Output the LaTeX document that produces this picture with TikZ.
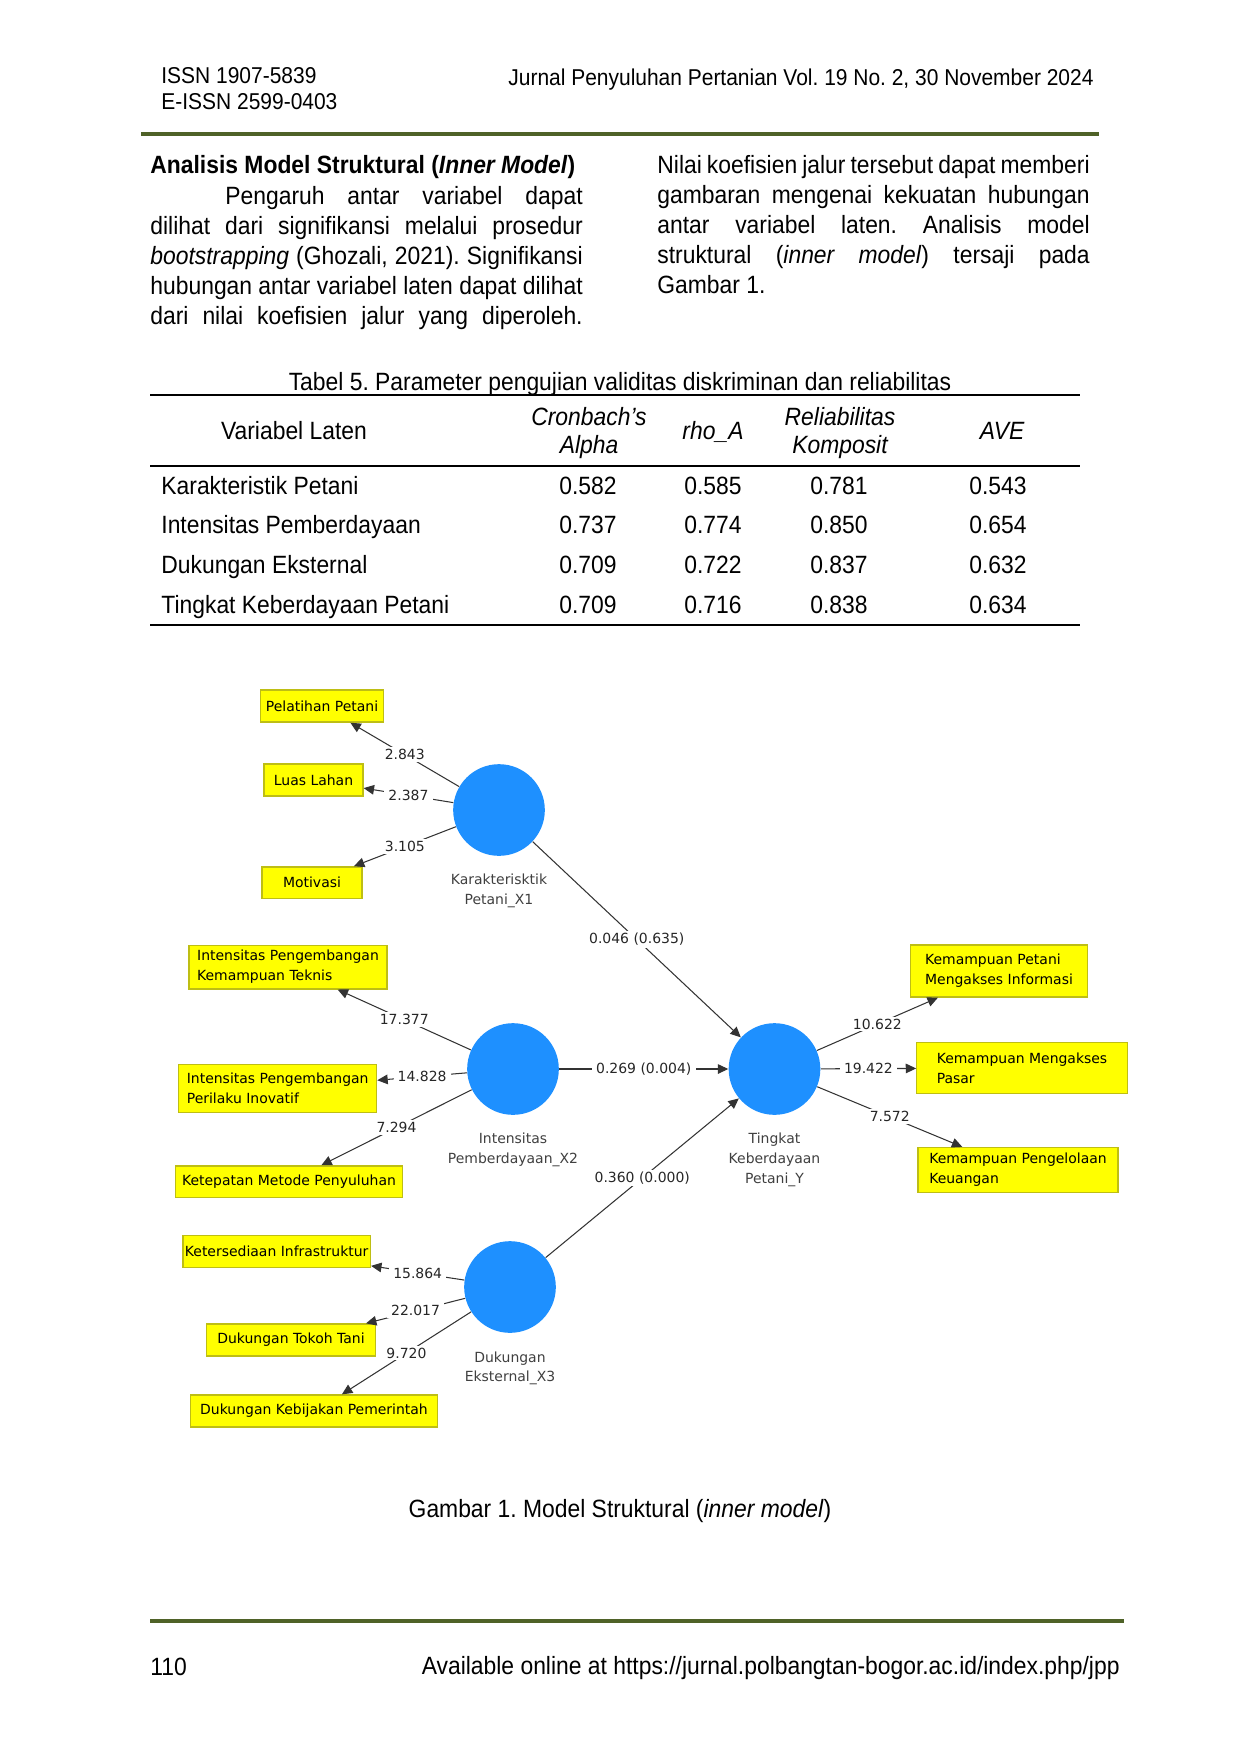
\documentclass[tikz,border=0pt]{standalone}
\usepackage{fontspec}
\setmainfont{Liberation Sans}[FakeStretch=0.915]
\newfontfamily\plsfont{DejaVu Sans}
\usepackage{xcolor}
\usetikzlibrary{arrows.meta,positioning}
\definecolor{plsblue}{RGB}{30,144,255}
\definecolor{plsyellow}{RGB}{255,255,0}
\definecolor{plsedge}{RGB}{190,190,20}
\definecolor{rulegreen}{RGB}{79,98,40}
\frenchspacing

\begin{document}
\begin{tikzpicture}[x={(0.48pt,0pt)},y={(0pt,-0.48pt)},>={Triangle[length=5pt,width=4.6pt]},
  body/.style={font=\fontsize{12}{14.5}\selectfont,inner sep=0pt},
  hdr/.style={font=\fontsize{11}{13}\selectfont,inner sep=0pt},
  col/.style={body,text width=207.5pt,align=justify,anchor=base west},
  cell/.style={body,anchor=base},
  hcell/.style={inner sep=0pt,align=center,font=\fontsize{12}{13}\selectfont\itshape},
  rowname/.style={body,anchor=base west},
  rulegr/.style={draw=rulegreen,line width=1.7pt},
  hline/.style={draw=black,line width=0.6pt},
  lv/.style={circle,fill=plsblue,minimum size=44pt,inner sep=0pt},
  lvname/.style={font=\plsfont\fontsize{6.7}{9.6}\selectfont,text=black!75,align=center,inner sep=0pt},
  ind/.style={draw=plsedge,fill=plsyellow,line width=0.6pt,font=\plsfont\fontsize{6.7}{9.6}\selectfont,align=left,inner sep=0pt,minimum height=15.4pt},
  link/.style={->,draw=black!80,line width=0.5pt},
  val/.style={font=\plsfont\fontsize{6.7}{8}\selectfont,text=black!85,fill=white,inner xsep=2pt,inner ysep=1pt}]
\useasboundingbox[fill=white] (0,0) rectangle (1240,1754);

% page header
\node[hdr,anchor=base west] (issn) at (161,83) {ISSN 1907-5839};
\node[hdr,anchor=base west] (eissn) at (161,109) {E-ISSN 2599-0403};
\node[hdr,anchor=base east] (jrnl) at (1094,85) {Jurnal Penyuluhan Pertanian Vol. 19 No. 2, 30 November 2024};
\draw[rulegr] (141,134) -- (1099,134);

% two text columns
\node[body,anchor=base west] (head) at (150,173) {\textbf{Analisis Model Struktural (\textit{Inner Model})}};
\node[col] (left) at (150,204) {\hspace*{36pt}Pengaruh antar variabel dapat\linebreak
dilihat dari signifikansi melalui prosedur\linebreak
\textit{bootstrapping} (Ghozali, 2021). Signifikansi\linebreak
hubungan antar variabel laten dapat dilihat\linebreak
dari nilai koefisien jalur yang diperoleh.\parfillskip=0pt\par};
\node[col] (right) at (657,173) {Nilai koefisien jalur tersebut dapat memberi\linebreak
gambaran mengenai kekuatan hubungan\linebreak
antar variabel laten. Analisis model\linebreak
struktural (\textit{inner model}) tersaji pada\linebreak
Gambar 1.};

% table 5
\node[cell] (tcap) at (620,390) {Tabel 5. Parameter pengujian validitas diskriminan dan reliabilitas};
\draw[hline] (150,395) -- (1080,395);
\node[cell] (hvar) at (294,439) {Variabel Laten};
\node[hcell] (halpha) at (589,433) {Cronbach{\char"27}s\\Alpha};
\node[hcell,anchor=base] (hrho) at (713,439) {rho\_A};
\node[hcell] (hrel) at (840,433) {Reliabilitas\\Komposit};
\node[hcell,anchor=base] (have) at (1002,439) {AVE};
\draw[hline] (150,466) -- (1080,466);
\node[rowname] (r1) at (161,494) {Karakteristik Petani};
\node[cell] (r1a) at (588,494) {0.582};
\node[cell] (r1b) at (713,494) {0.585};
\node[cell] (r1c) at (839,494) {0.781};
\node[cell] (r1d) at (998,494) {0.543};
\node[rowname] (r2) at (161,533) {Intensitas Pemberdayaan};
\node[cell] (r2a) at (588,533) {0.737};
\node[cell] (r2b) at (713,533) {0.774};
\node[cell] (r2c) at (839,533) {0.850};
\node[cell] (r2d) at (998,533) {0.654};
\node[rowname] (r3) at (161,573) {Dukungan Eksternal};
\node[cell] (r3a) at (588,573) {0.709};
\node[cell] (r3b) at (713,573) {0.722};
\node[cell] (r3c) at (839,573) {0.837};
\node[cell] (r3d) at (998,573) {0.632};
\node[rowname] (r4) at (161,613) {Tingkat Keberdayaan Petani};
\node[cell] (r4a) at (588,613) {0.709};
\node[cell] (r4b) at (713,613) {0.716};
\node[cell] (r4c) at (839,613) {0.838};
\node[cell] (r4d) at (998,613) {0.634};
\draw[hline] (150,625) -- (1080,625);

% inner model: latent variables
\node[lv] (x1) at (499,810) {};
\node[lvname,below=8.5pt of x1] (x1n) {Karakterisktik\\Petani\_X1};
\node[lv] (x2) at (513,1069) {};
\node[lvname,below=8.5pt of x2] (x2n) {Intensitas\\Pemberdayaan\_X2};
\node[lv] (yk) at (774.5,1069) {};
\node[lvname,below=8.5pt of yk] (ykn) {Tingkat\\Keberdayaan\\Petani\_Y};
\node[lv] (x3) at (510,1287) {};
\node[lvname,below=8.5pt of x3] (x3n) {Dukungan\\Eksternal\_X3};

% indicators
\node[ind,minimum width=59pt] (pel) at (322,706) {Pelatihan Petani};
\node[ind,minimum width=47.5pt] (lua) at (313.5,780) {Luas Lahan};
\node[ind,minimum width=48pt,minimum height=15pt] (mot) at (312,882.5) {Motivasi};
\node[ind,minimum width=95pt,minimum height=21pt] (ipk) at (288,967) {Intensitas Pengembangan\\Kemampuan Teknis};
\node[ind,minimum width=95pt,minimum height=23pt] (ipi) at (277.7,1088.5) {Intensitas Pengembangan\\Perilaku Inovatif};
\node[ind,minimum width=109pt,minimum height=15pt] (kmp) at (289,1181.5) {Ketepatan Metode Penyuluhan};
\node[ind,minimum width=85pt,minimum height=25pt] (kpi) at (999,971) {Kemampuan Petani\\Mengakses Informasi};
\node[ind,minimum width=101pt,minimum height=24.5pt] (kms) at (1022,1068) {Kemampuan Mengakses\\Pasar};
\node[ind,minimum width=96pt,minimum height=21.6pt] (kpk) at (1018,1170) {Kemampuan Pengelolaan\\Keuangan};
\node[ind,minimum width=90pt] (kin) at (276.7,1251.5) {Ketersediaan Infrastruktur};
\node[ind,minimum width=81pt] (dtt) at (291,1340) {Dukungan Tokoh Tani};
\node[ind,minimum width=118.5pt] (dkp) at (314,1411) {Dukungan Kebijakan Pemerintah};

% outer loadings
\draw[link] (x1) -- node[val]{2.843} (pel);
\draw[link] (x1) -- node[val]{2.387} (lua);
\draw[link] (x1) -- node[val]{3.105} (mot);
\draw[link] (x2) -- node[val]{17.377} (ipk);
\draw[link] (x2) -- node[val]{14.828} (ipi);
\draw[link] (x2) -- node[val]{7.294} (kmp);
\draw[link] (yk) -- node[val]{10.622} (kpi);
\draw[link] (yk) -- node[val]{19.422} (kms);
\draw[link] (yk) -- node[val]{7.572} (kpk);
\draw[link] (x3) -- node[val]{15.864} (kin);
\draw[link] (x3) -- node[val]{22.017} ([xshift=-4.8pt]dtt.north east);
\draw[link] (x3) -- node[val]{9.720} ([xshift=13.4pt]dkp.north);

% path coefficients
\draw[link] (x1) -- node[val]{0.046 (0.635)} (yk);
\draw[link] (x2) -- node[val]{0.269 (0.004)} (yk);
\draw[link] (x3) -- node[val]{0.360 (0.000)} (yk);

% caption and footer
\node[cell] (fig) at (620,1517) {Gambar 1. Model Struktural (\textit{inner model})};
\draw[rulegr] (150,1621) -- (1124,1621);
\node[body,anchor=base west] (pg) at (150,1675) {110};
\node[body,anchor=base east] (url) at (1120,1674) {Available online at https://jurnal.polbangtan-bogor.ac.id/index.php/jpp};
\end{tikzpicture}
\end{document}
